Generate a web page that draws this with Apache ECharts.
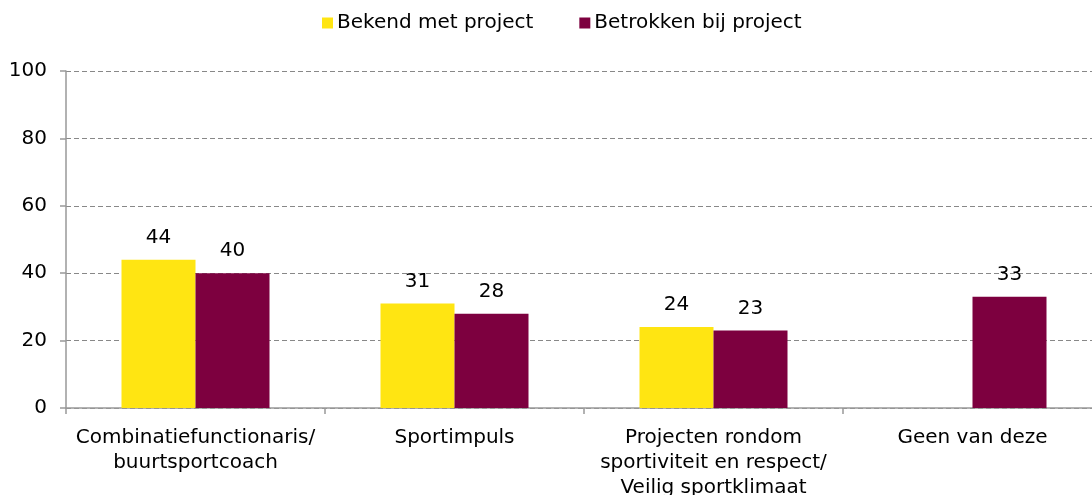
<!DOCTYPE html>
<html>
<head>
<meta charset="utf-8">
<script src="https://cdn.jsdelivr.net/npm/echarts@6/dist/echarts.min.js"></script>
<style>
  html, body { margin: 0; padding: 0; background: #fff; }
  #chart { width: 1092px; height: 495px; }
</style>
</head>
<body>
<div id="chart"></div>
<script>
// Project categories (x axis)
const categories = [
  'Combinatiefunctionaris/\nbuurtsportcoach',
  'Sportimpuls',
  'Projecten rondom\nsportiviteit en respect/\nVeilig sportklimaat',
  'Geen van deze'
];
// Percentages per series
const bekendValues = [44, 31, 24, null];
const betrokkenValues = [40, 28, 23, 33];
const seriesNames = ['Bekend met project', 'Betrokken bij project'];
const yTicks = { min: 0, max: 100, interval: 20 };

const FONT = 'DejaVu Sans';
const FS = 20;
const chart = echarts.init(document.getElementById('chart'), null, { renderer: 'canvas' });

const labelStyle = {
  show: true,
  position: 'top',
  distance: 12,
  color: '#000',
  fontFamily: FONT,
  fontSize: FS
};

chart.setOption({
  animation: false,
  textStyle: { fontFamily: FONT },
  legend: {
    top: 8,
    left: 317,
    itemWidth: 11,
    itemHeight: 11,
    itemGap: 46,
    icon: 'rect',
    textStyle: { fontFamily: FONT, fontSize: FS, color: '#000', padding: [0, 0, 0, -1] },
    data: seriesNames
  },
  grid: {
    left: 66, width: 1036, top: 71, bottom: 87,
    containLabel: false,
    outerBoundsMode: 'none'
  },
  xAxis: {
    type: 'category',
    data: categories,
    axisLine: { lineStyle: { color: '#999', width: 1.5 } },
    axisTick: { show: true, length: 6, lineStyle: { color: '#999', width: 1.5 } },
    axisLabel: {
      color: '#000',
      fontFamily: FONT,
      fontSize: FS,
      lineHeight: 25,
      margin: 17,
      interval: 0
    }
  },
  yAxis: {
    type: 'value',
    min: yTicks.min,
    max: yTicks.max,
    interval: yTicks.interval,
    axisLine: { show: true, lineStyle: { color: '#999', width: 1.5 } },
    axisTick: { show: true, length: 6, lineStyle: { color: '#999', width: 1.5 } },
    axisLabel: { color: '#000', fontFamily: FONT, fontSize: FS, margin: 19 },
    splitLine: { lineStyle: { color: '#888', type: [5, 3], width: 1 } }
  },
  series: [
    {
      name: seriesNames[0],
      type: 'bar',
      data: bekendValues,
      barWidth: 74,
      barGap: '0%',
      itemStyle: { color: '#FFE512' },
      label: labelStyle
    },
    {
      name: seriesNames[1],
      type: 'bar',
      data: betrokkenValues,
      barWidth: 74,
      itemStyle: { color: '#7D003F' },
      label: labelStyle
    }
  ]
});
</script>
</body>
</html>
